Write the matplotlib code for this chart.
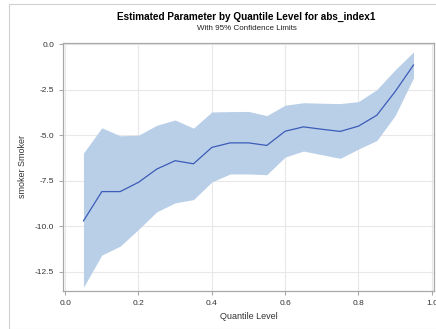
import matplotlib.pyplot as plt
from matplotlib.patches import Rectangle

plt.rcParams['font.family'] = ['Liberation Sans', 'DejaVu Sans']

# quantile process estimates for smoker, with 95% limits
quantiles = [0.05, 0.10, 0.15, 0.20, 0.25, 0.30, 0.35, 0.40, 0.45, 0.50,
             0.55, 0.60, 0.65, 0.70, 0.75, 0.80, 0.85, 0.90, 0.95]
estimate = [-9.71, -8.10, -8.10, -7.59, -6.86, -6.40, -6.57, -5.67, -5.42, -5.42,
            -5.56, -4.78, -4.54, -4.67, -4.79, -4.50, -3.90, -2.60, -1.14]
upper_cl = [-5.98, -4.59, -5.03, -5.00, -4.45, -4.16, -4.61, -3.72, -3.70, -3.69,
            -3.92, -3.35, -3.21, -3.24, -3.26, -3.15, -2.49, -1.40, -0.42]
lower_cl = [-13.36, -11.59, -11.10, -10.18, -9.21, -8.72, -8.54, -7.57, -7.13, -7.13,
            -7.17, -6.20, -5.87, -6.07, -6.27, -5.76, -5.29, -3.92, -1.85]
x_ticks = [0.0, 0.2, 0.4, 0.6, 0.8, 1.0]
y_ticks = [0.0, -2.5, -5.0, -7.5, -10.0, -12.5]

fig = plt.figure(figsize=(4.36, 3.29), dpi=100)
fig.patches.append(Rectangle((9 / 436, 0.0), 1.0, 1 - 4 / 329, transform=fig.transFigure,
                             fill=False, edgecolor='#D0D0D0', linewidth=0.8))
ax = fig.add_axes([0.1452, 0.1164, 0.8502, 0.7544])

ax.fill_between(quantiles, lower_cl, upper_cl, color='#B9CFE8', linewidth=0, zorder=2)
ax.plot(quantiles, estimate, color='#3B5CB8', linewidth=0.9, zorder=3)

ax.set_xlim(-0.005, 1.006)
ax.set_ylim(-13.55, 0.1)
ax.set_xticks(x_ticks)
ax.set_yticks(y_ticks)
ax.set_xticklabels([f'{v:.1f}' for v in x_ticks])
ax.set_yticklabels([f'{v:.1f}' for v in y_ticks])
ax.grid(True, color='#E8E8E8', linewidth=0.8, zorder=0)
ax.set_axisbelow(True)

for s in ax.spines.values():
    s.set_color('#A8A8A8')
    s.set_linewidth(0.9)
ax.tick_params(colors='#A8A8A8', labelcolor='#333333', labelsize=6, length=3, width=0.8)

ax.set_xlabel('Quantile Level', fontsize=6.5, color='#333333', labelpad=4)
ax.set_ylabel('smoker Smoker', fontsize=6.5, color='#333333', labelpad=6)

fig.text(0.5656, 1 - 17 / 329, 'Estimated Parameter by Quantile Level for abs_index1',
         ha='center', va='center', fontsize=7.2, fontweight='bold', color='black')
fig.text(0.5656, 1 - 28.5 / 329, 'With 95% Confidence Limits',
         ha='center', va='center', fontsize=5.8, color='#222222')

fig.savefig('out.png', dpi=100)
